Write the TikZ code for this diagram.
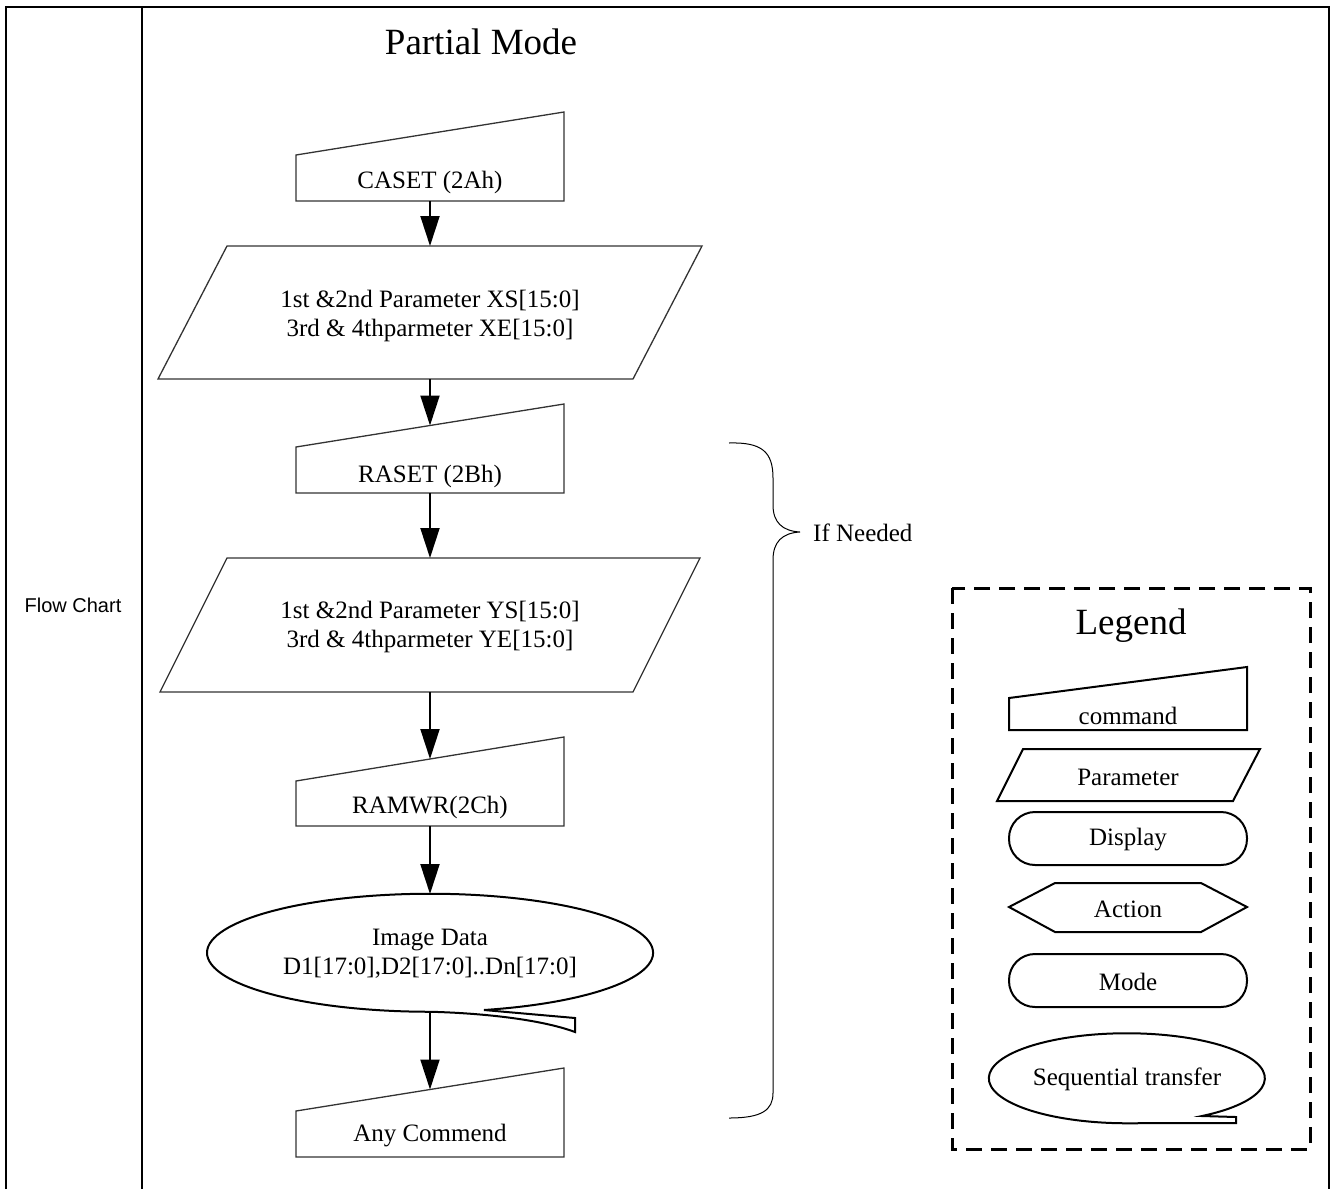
\documentclass[tikz,border=0pt]{standalone}
\usepackage{fontspec}
\setmainfont{Liberation Serif}
\newfontfamily\arialfont{Liberation Sans}
\usetikzlibrary{arrows.meta}
\begin{document}
\begin{tikzpicture}[x=1pt,y=-1pt,
  shp/.style={draw=black!80, line width=1.3pt},
  lshp/.style={draw=black, line width=2pt},
  txt/.style={font=\fontsize{25}{29}\selectfont, align=center, inner sep=0pt, yshift=-2pt},
  bigtxt/.style={font=\fontsize{37}{40}\selectfont, inner sep=0pt},
  flow/.style={line width=2pt, -{Triangle[width=19pt,length=30pt]}},
  frameline/.style={line width=2.5pt}]
\useasboundingbox (0,0) rectangle (1333,1189);
% frame
\draw[frameline] (6,1189) -- (6,7) -- (1329,7) -- (1329,1189);
\draw[frameline] (142,7) -- (142,1189);
\node[font=\arialfont\fontsize{20}{24}\selectfont, inner sep=0pt] (fc) at (73,605) {Flow Chart};
\node[bigtxt] (title) at (481,42) {Partial Mode};
% CASET
\draw[shp] (296,201) -- (296,155) -- (564,112) -- (564,201) -- cycle;
\coordinate (casetT) at (430,133.5);
\coordinate (casetB) at (430,201);
\node[txt] (caset) at (430,180) {CASET (2Ah)};
% Param 1
\draw[shp] (158,379) -- (227,246) -- (702,246) -- (633,379) -- cycle;
\coordinate (p1T) at (430,246);
\coordinate (p1B) at (430,379);
\node[txt] (p1) at (430,314) {1st \&2nd Parameter XS[15:0]\\3rd \& 4thparmeter XE[15:0]};
% RASET
\draw[shp] (296,493) -- (296,447) -- (564,404) -- (564,493) -- cycle;
\coordinate (rasetT) at (430,425.5);
\coordinate (rasetB) at (430,493);
\node[txt] (raset) at (430,474) {RASET (2Bh)};
% Param 2
\draw[shp] (160,692) -- (227,558) -- (700,558) -- (633,692) -- cycle;
\coordinate (p2T) at (430,558);
\coordinate (p2B) at (430,692);
\node[txt] (p2) at (430,625) {1st \&2nd Parameter YS[15:0]\\3rd \& 4thparmeter YE[15:0]};
% RAMWR
\draw[shp] (296,826) -- (296,781) -- (564,737) -- (564,826) -- cycle;
\coordinate (ramwrT) at (430,759);
\coordinate (ramwrB) at (430,826);
\node[txt] (ramwr) at (430,805) {RAMWR(2Ch)};
% Image data
\draw[lshp] (484,1010) arc[start angle=76, end angle=-270, x radius=223, y radius=59]
  .. controls (480,1013) and (540,1019) .. (575,1032) -- (575,1018) -- cycle;
\coordinate (imgT) at (430,894);
\coordinate (imgB) at (430,1012);
\node[txt] (img) at (430,952) {Image Data\\D1[17:0],D2[17:0]..Dn[17:0]};
% Any Commend
\draw[shp] (296,1157) -- (296,1111) -- (564,1068) -- (564,1157) -- cycle;
\coordinate (anyT) at (430,1089.5);
\node[txt] (any) at (430,1134) {Any Commend};
% connectors
\draw[flow] (casetB) -- (p1T);
\draw[flow] (p1B) -- (rasetT);
\draw[flow] (rasetB) -- (p2T);
\draw[flow] (p2B) -- (ramwrT);
\draw[flow] (ramwrB) -- (imgT);
\draw[flow] (imgB) -- (anyT);
% brace
\draw[line width=1pt] (729,443) .. controls (762,442) and (773,452) .. (773,478) -- (773,505)
  .. controls (773,522) and (782,531) .. (800,532)
  .. controls (782,533) and (773,542) .. (773,560) -- (773,1093)
  .. controls (773,1110) and (762,1118) .. (729,1118);
\node[txt, anchor=west] (ifneeded) at (813,531) {If Needed};
% legend
\draw[line width=3pt, dash pattern=on 16pt off 9pt] (952,588) rectangle (1310,1149);
\node[bigtxt] (legend) at (1131,626) {Legend};
\draw[lshp] (1009,730) -- (1009,698) -- (1247,667) -- (1247,730) -- cycle;
\node[txt] (lcmd) at (1128,714) {command};
\draw[lshp] (997,801) -- (1023,749) -- (1260,749) -- (1233,801) -- cycle;
\node[txt] (lpar) at (1128,775) {Parameter};
\draw[lshp, rounded corners=26pt] (1009,812) rectangle (1247,865);
\node[txt] (ldisp) at (1128,838) {Display};
\draw[lshp] (1009,907) -- (1055,883) -- (1201,883) -- (1247,907) -- (1201,932) -- (1055,932) -- cycle;
\node[txt] (lact) at (1128,907) {Action};
\draw[lshp, rounded corners=26pt] (1009,954) rectangle (1247,1007);
\node[txt] (lmode) at (1128,980) {Mode};
\draw[lshp] (1202,1116) arc[start angle=57, end angle=-270, x radius=138, y radius=45]
  -- (1236,1123) -- (1236,1117) -- cycle;
\node[txt] (lseq) at (1127,1077) {Sequential transfer};
\end{tikzpicture}
\end{document}
